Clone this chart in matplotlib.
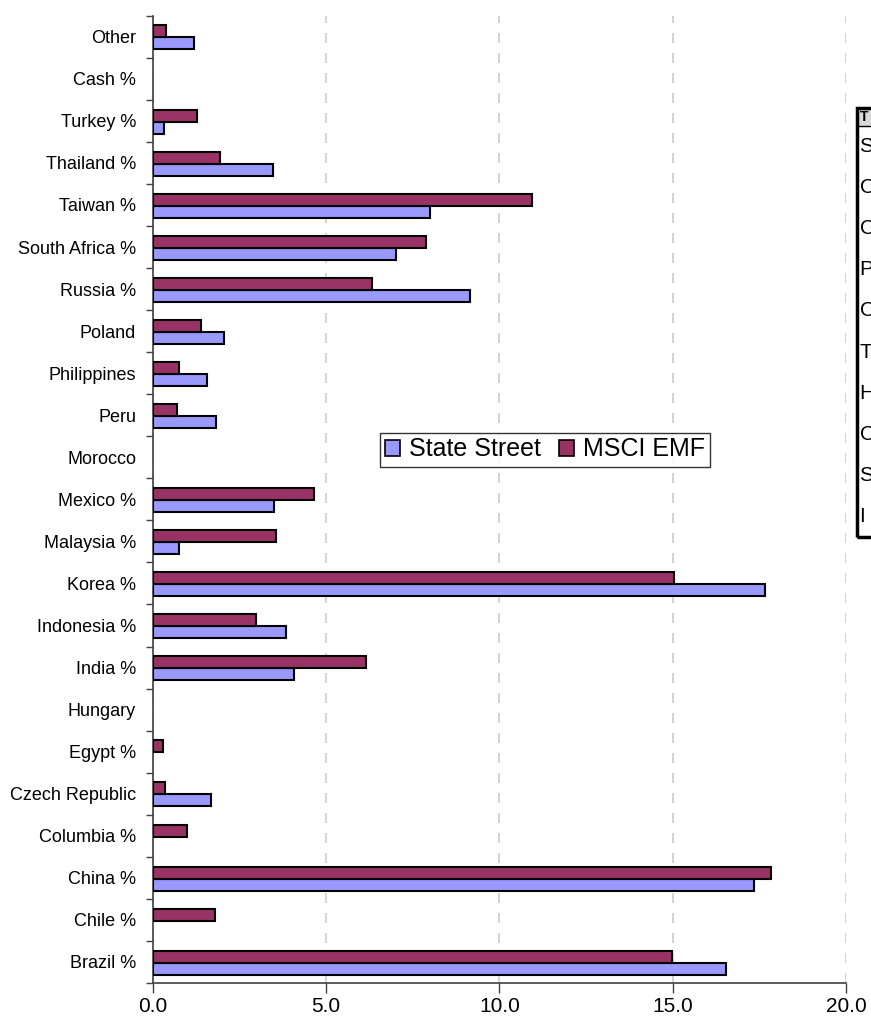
import matplotlib
matplotlib.use("Agg")
import matplotlib.pyplot as plt
from matplotlib.patches import Rectangle
from matplotlib.ticker import FixedLocator
import numpy as np

plt.rcParams['font.family'] = ['Liberation Sans', 'DejaVu Sans']

categories = ["Brazil %", "Chile %", "China %", "Columbia %", "Czech Republic",
              "Egypt %", "Hungary", "India %", "Indonesia %", "Korea %",
              "Malaysia %", "Mexico %", "Morocco", "Peru", "Philippines",
              "Poland", "Russia %", "South Africa %", "Taiwan %", "Thailand %",
              "Turkey %", "Cash %", "Other"]
state_street = [16.55, 0.0, 17.35, 0.0, 1.67, 0.0, 0.0, 4.07, 3.85, 17.65,
                0.75, 3.50, 0.0, 1.84, 1.56, 2.07, 9.14, 7.01, 8.00, 3.46,
                0.33, 0.0, 1.18]
msci_emf = [14.97, 1.79, 17.85, 0.98, 0.35, 0.29, 0.0, 6.15, 2.97, 15.04,
            3.56, 4.65, 0.0, 0.69, 0.75, 1.38, 6.33, 7.88, 10.93, 1.93,
            1.27, 0.0, 0.37]
series_names = ["State Street", "MSCI EMF"]
xticks = [0, 5, 10, 15, 20]
xtick_labels = ["0.0", "5.0", "10.0", "15.0", "20.0"]

# Table of holdings partly shown at the right edge
table_header = "T"
table_rows = ["S", "C", "C", "P", "C", "T", "H", "C", "S", "I"]

W, H = 871, 1024
fig = plt.figure(figsize=(W / 100, H / 100), dpi=100)
ax = fig.add_axes([152.7 / W, 1 - 983 / H, (846 - 152.7) / W, (983 - 15.7) / H])

y = np.arange(len(categories))
bh = 0.285
ss = np.array(state_street)
ms = np.array(msci_emf)
ss_on = ss > 0
ms_on = ms > 0
ax.barh(y[ss_on] - 0.16, ss[ss_on], height=bh, color="#9999FF",
        edgecolor="black", linewidth=1.5, label=series_names[0], zorder=3)
ax.barh(y[ms_on] + 0.125, ms[ms_on], height=bh, color="#993366",
        edgecolor="black", linewidth=1.5, label=series_names[1], zorder=3)

ax.set_xlim(0, 20)
ax.set_ylim(-0.5, len(categories) - 0.5)

ax.set_xticks(xticks)
ax.set_xticklabels(xtick_labels, fontsize=15)
ax.tick_params(axis="x", length=7, width=1, color="#404040", pad=3)

ax.set_yticks(y)
ax.set_yticklabels(categories, fontsize=13)
ax.tick_params(axis="y", which="major", length=0, pad=12)
ax.yaxis.set_minor_locator(FixedLocator(np.arange(-0.5, len(categories), 1.0)))
ax.tick_params(axis="y", which="minor", length=5, width=1, color="#404040")

for sp in ["top", "right"]:
    ax.spines[sp].set_visible(False)
for sp in ["left", "bottom"]:
    ax.spines[sp].set_color("#404040")
    ax.spines[sp].set_linewidth(1.2)

ax.xaxis.grid(True, linestyle=(0, (6, 6)), color="#cccccc", linewidth=1.2, zorder=0)
ax.set_axisbelow(True)

leg = ax.legend(loc="center", bbox_to_anchor=((545 - 152.7) / (846 - 152.7),
                                             (983 - 449.5) / (983 - 15.7)),
                ncol=2, fontsize=18, frameon=True, fancybox=False,
                edgecolor="black", handlelength=0.6, handleheight=0.6,
                handletextpad=0.35, columnspacing=0.75, borderpad=0.2,
                borderaxespad=0)
leg.get_frame().set_linewidth(1.0)
for h in leg.legend_handles:
    h.set_linewidth(1.2)

# Right-hand table box
box_left, box_top, box_bottom = 856.5, 108, 537
header_bottom = 126
fig.patches.append(Rectangle((box_left / W, 1 - header_bottom / H),
                             (W + 20 - box_left) / W, (header_bottom - box_top) / H,
                             transform=fig.transFigure, facecolor="#d9d9d9",
                             edgecolor="none", zorder=1))
fig.patches.append(Rectangle((box_left / W, 1 - box_bottom / H),
                             (W + 20 - box_left) / W, (box_bottom - box_top) / H,
                             transform=fig.transFigure, facecolor="none",
                             edgecolor="black", linewidth=2.5, zorder=2))
fig.lines.append(plt.Line2D([box_left / W, 1.0], [1 - header_bottom / H] * 2,
                            transform=fig.transFigure, color="black", linewidth=1))
fig.text((box_left + 3) / W, 1 - 117 / H, table_header, fontsize=10,
         fontweight="bold", va="center", ha="left")
row_y0, row_step = 146, 41.2
for i, t in enumerate(table_rows):
    fig.text((box_left + 3) / W, 1 - (row_y0 + i * row_step) / H, t,
             fontsize=15, va="center", ha="left")

fig.savefig("out.png", dpi=100)
